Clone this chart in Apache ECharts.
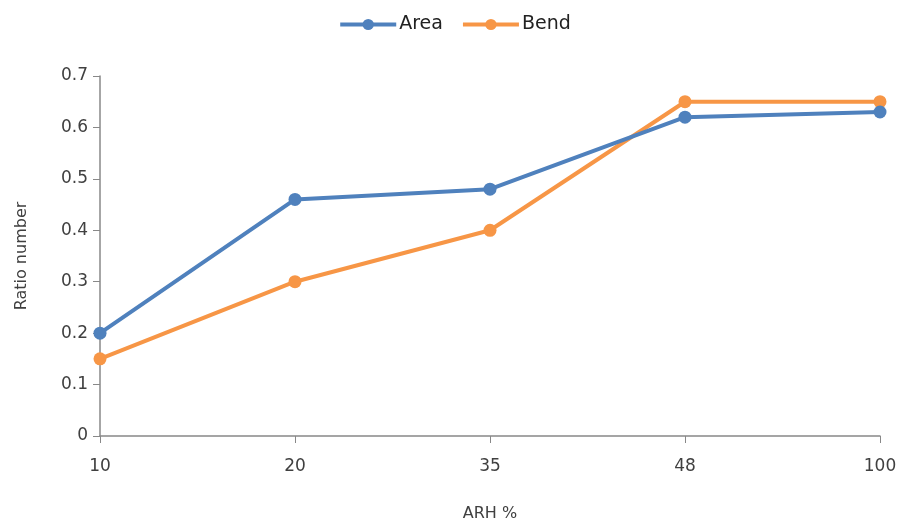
<!DOCTYPE html>
<html>
<head>
<meta charset="utf-8">
<script src="https://cdn.jsdelivr.net/npm/echarts@6/dist/echarts.min.js"></script>
<style>
html,body{margin:0;padding:0;background:#fff;}
#chart{width:909px;height:530px;}
</style>
</head>
<body>
<div id="chart"></div>
<script>
// ARH levels on the category axis
const categories = ['10', '20', '35', '48', '100'];
// Ratio numbers per series
const areaValues = [0.2, 0.46, 0.48, 0.62, 0.63];
const bendValues = [0.15, 0.3, 0.4, 0.65, 0.65];

const FONT = 'DejaVu Sans';
const TEXT = '#404040';
const AXIS = '#888';

const chart = echarts.init(document.getElementById('chart'));
chart.setOption({
  animation: false,
  backgroundColor: '#fff',
  textStyle: { fontFamily: FONT },
  legend: {
    top: 10,
    left: 'center',
    itemWidth: 56,
    itemHeight: 14,
    itemGap: 18,
    lineStyle: { width: 4 },
    textStyle: { fontFamily: FONT, fontSize: 19, color: '#222', padding: [0, 0, 0, -2] },
    data: ['Area', 'Bend']
  },
  grid: { left: 100, right: 29, top: 76, bottom: 94 },
  xAxis: {
    type: 'category',
    data: categories,
    boundaryGap: false,
    name: 'ARH %',
    nameLocation: 'middle',
    nameGap: 70,
    nameTextStyle: { fontFamily: FONT, fontSize: 16, color: TEXT },
    axisLine: { lineStyle: { color: AXIS, width: 1.5 } },
    axisTick: { alignWithLabel: true, length: 7, lineStyle: { color: AXIS } },
    axisLabel: { fontFamily: FONT, fontSize: 17, color: TEXT, margin: 22 }
  },
  yAxis: {
    type: 'value',
    min: 0,
    max: 0.7,
    interval: 0.1,
    name: 'Ratio number',
    nameLocation: 'middle',
    nameGap: 70,
    nameRotate: 90,
    nameTextStyle: { fontFamily: FONT, fontSize: 16, color: TEXT },
    splitLine: { show: false },
    axisLine: { show: true, lineStyle: { color: AXIS, width: 1.5 } },
    axisTick: { show: true, length: 7, lineStyle: { color: AXIS } },
    axisLabel: {
      fontFamily: FONT, fontSize: 17, color: TEXT, margin: 12,
      formatter: v => (v === 0 ? '0' : v.toFixed(1))
    }
  },
  series: [
    {
      name: 'Area',
      type: 'line',
      data: areaValues,
      symbol: 'circle',
      symbolSize: 13,
      lineStyle: { width: 4, color: '#4F81BD' },
      itemStyle: { color: '#4F81BD' },
      z: 3
    },
    {
      name: 'Bend',
      type: 'line',
      data: bendValues,
      symbol: 'circle',
      symbolSize: 13,
      lineStyle: { width: 4, color: '#F79646' },
      itemStyle: { color: '#F79646' },
      z: 2
    }
  ]
});
</script>
</body>
</html>
